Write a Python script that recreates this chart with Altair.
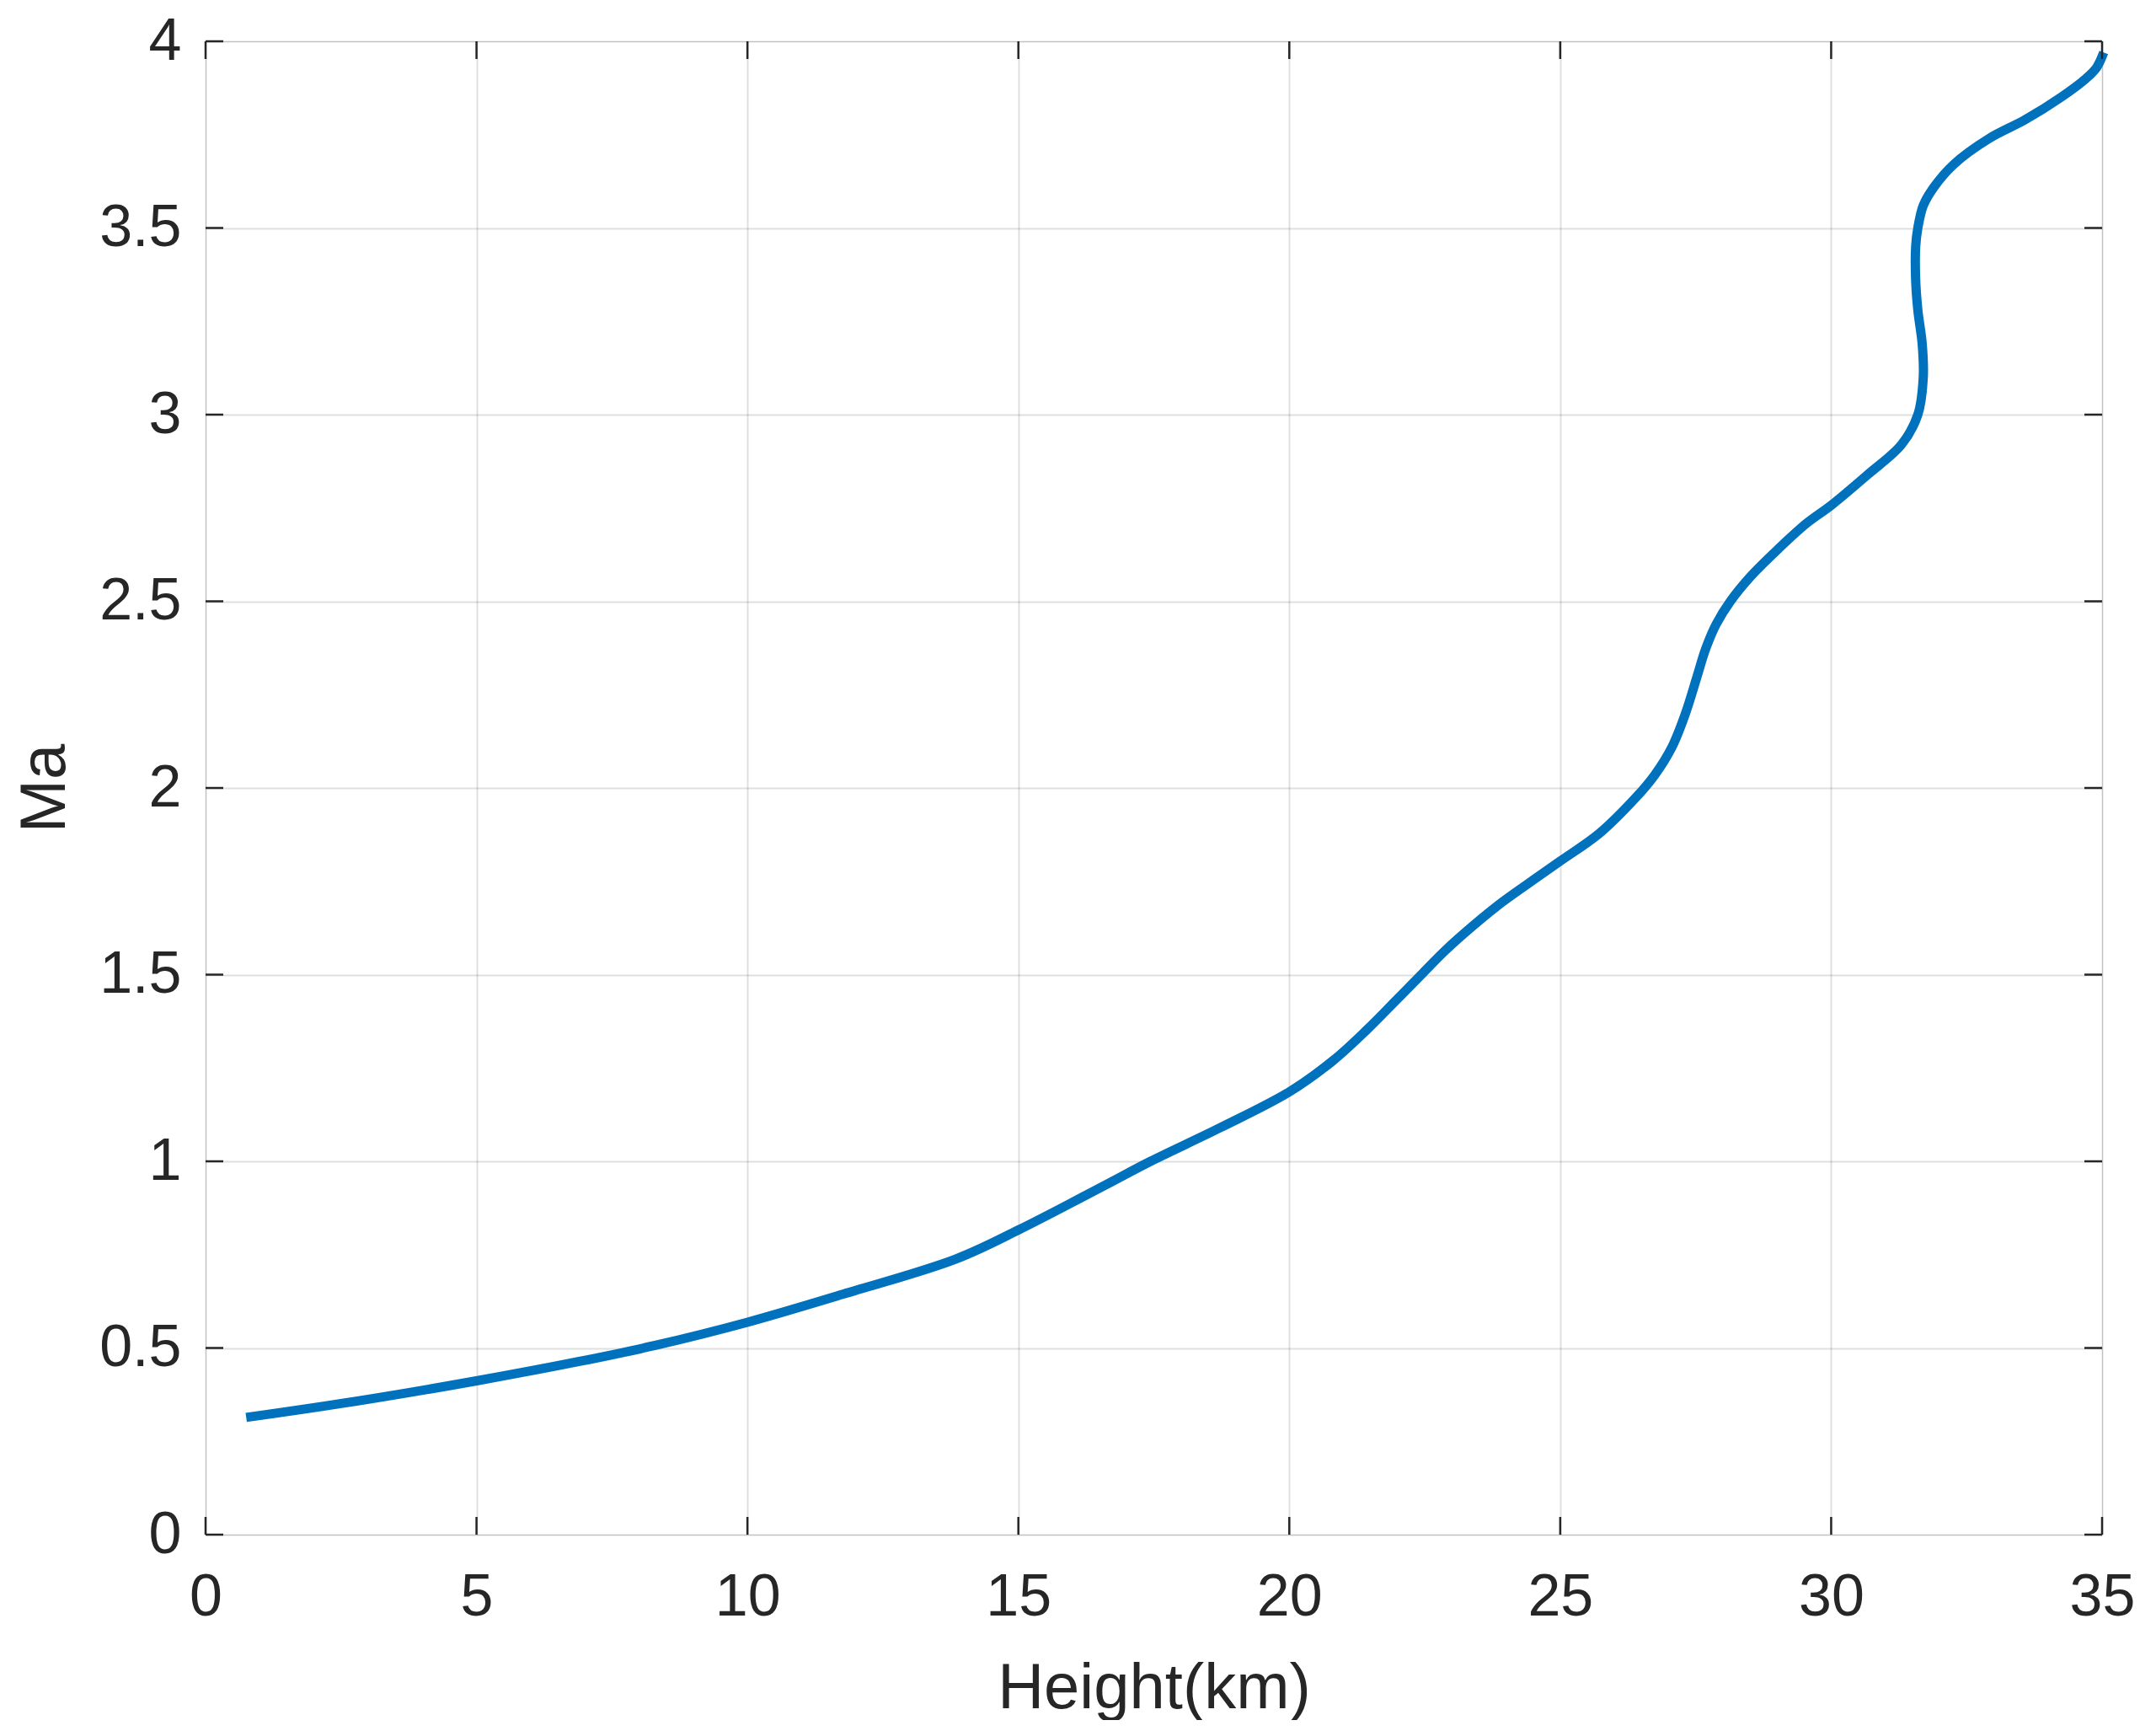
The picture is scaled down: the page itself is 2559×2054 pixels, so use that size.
import altair as alt
import pandas as pd

# Curve (Height in km, Mach number)
height_km = [0.75, 2.76, 5.0, 6.9, 8.3, 10.0, 11.76, 13.84, 15.0, 16.6, 17.44, 18.74,
             20.0, 20.81, 21.43, 21.95, 22.47, 22.88, 23.4, 23.91, 24.43, 25.0, 25.72,
             26.4, 26.74, 27.06, 27.31, 27.52, 27.68, 27.88, 28.14, 28.51, 29.03, 29.54,
             30.0, 30.68, 31.3, 31.6, 31.7, 31.68, 31.6, 31.56, 31.56, 31.6, 31.7, 31.9,
             32.26, 32.92, 33.58, 34.24, 34.7, 34.9, 35.03]
mach = [0.314, 0.357, 0.412, 0.464, 0.507, 0.569, 0.644, 0.738, 0.816, 0.936, 1.0, 1.091,
        1.186, 1.27, 1.352, 1.428, 1.505, 1.565, 1.632, 1.692, 1.746, 1.804, 1.878,
        1.975, 2.034, 2.109, 2.199, 2.296, 2.371, 2.439, 2.5, 2.566, 2.641, 2.708,
        2.757, 2.84, 2.92, 3.0, 3.1, 3.19, 3.28, 3.36, 3.45, 3.5, 3.56, 3.61,
        3.67, 3.74, 3.79, 3.85, 3.9, 3.93, 3.97]

x_ticks = [0, 5, 10, 15, 20, 25, 30, 35]
y_ticks = [0, 0.5, 1, 1.5, 2, 2.5, 3, 3.5, 4]

W, H = 2251, 1772
TICK = 21
FONT = "Liberation Sans"
INK = "#262626"

df = pd.DataFrame({"h": height_km, "ma": mach, "i": list(range(len(height_km)))})
xt = pd.DataFrame({"v": x_ticks})
yt = pd.DataFrame({"v": y_ticks})

xscale = alt.Scale(domain=[0, 35], nice=False, zero=False)
yscale = alt.Scale(domain=[0, 4], nice=False, zero=False)

xaxis = alt.Axis(values=x_ticks, format="~g", title="Height(km)", grid=True,
                 gridColor=INK, gridOpacity=0.15, gridWidth=2,
                 ticks=False, tickSize=0, domain=False, labelFlush=False,
                 labelFont=FONT, labelFontSize=70, labelColor=INK, labelPadding=40,
                 titleFont=FONT, titleFontSize=76, titleFontWeight="normal", titleColor=INK,
                 titleX=W / 2, titleY=205, titleBaseline="alphabetic")
yaxis = alt.Axis(values=y_ticks, format="~g", title="Ma", grid=True,
                 gridColor=INK, gridOpacity=0.15, gridWidth=2,
                 ticks=False, tickSize=0, domain=False, labelFlush=False,
                 labelFont=FONT, labelFontSize=70, labelColor=INK, labelPadding=29,
                 titleFont=FONT, titleFontSize=76, titleFontWeight="normal", titleColor=INK,
                 titleX=-168, titleY=H / 2, titleAngle=270, titleBaseline="alphabetic")

line = alt.Chart(df).mark_line(color="#0072BD", strokeWidth=11, interpolate="catmull-rom").encode(
    x=alt.X("h:Q", scale=xscale, axis=xaxis),
    y=alt.Y("ma:Q", scale=yscale, axis=yaxis),
    order="i:Q",
)

tick_style = dict(color=INK, strokeWidth=2.5)
bottom_ticks = alt.Chart(xt).mark_rule(**tick_style).encode(
    x=alt.X("v:Q", scale=xscale), y=alt.value(H), y2=alt.value(H - TICK))
top_ticks = alt.Chart(xt).mark_rule(**tick_style).encode(
    x=alt.X("v:Q", scale=xscale), y=alt.value(0), y2=alt.value(TICK))
left_ticks = alt.Chart(yt).mark_rule(**tick_style).encode(
    y=alt.Y("v:Q", scale=yscale), x=alt.value(0), x2=alt.value(TICK))
right_ticks = alt.Chart(yt).mark_rule(**tick_style).encode(
    y=alt.Y("v:Q", scale=yscale), x=alt.value(W), x2=alt.value(W - TICK))

chart = alt.layer(line, bottom_ticks, top_ticks, left_ticks, right_ticks).properties(
    width=W, height=H,
    autosize=alt.AutoSizeParams(type="none"),
    padding={"left": 236, "top": 41, "right": 50, "bottom": 220},
).configure_view(
    stroke=INK, strokeWidth=2.5, fill="white"
).configure(background="white")

chart.save("out.html", embed_options={"renderer": "svg", "actions": False})
